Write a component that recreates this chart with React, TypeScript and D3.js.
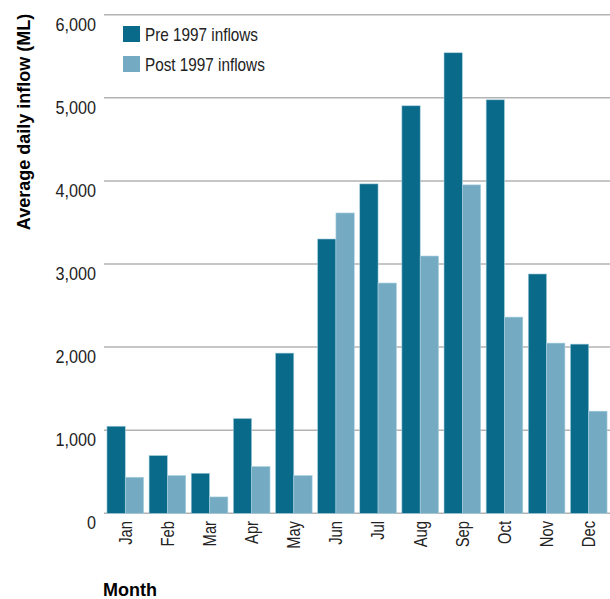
import React from 'react';
import * as d3 from 'd3';

const months = ['Jan', 'Feb', 'Mar', 'Apr', 'May', 'Jun', 'Jul', 'Aug', 'Sep', 'Oct', 'Nov', 'Dec'];
const pre1997 = [1048, 695, 482, 1141, 1928, 3301, 3964, 4904, 5542, 4976, 2880, 2036];
const post1997 = [434, 454, 197, 562, 454, 3614, 2771, 3096, 3952, 2361, 2048, 1229];
const yTicks = [0, 1000, 2000, 3000, 4000, 5000, 6000];
const seriesNames = ['Pre 1997 inflows', 'Post 1997 inflows'];
const colors = ['#0a6a8a', '#74abc3'];

const width = 610;
const height = 599;
const sans = "'Liberation Sans', Arial, sans-serif";

// no condensed face installed, so squeeze the regular one horizontally
const Narrow = ({ transform, squeeze, anchor, dy, children }: any) => (
  <g transform={`${transform} scale(${squeeze},1)`}>
    <text textAnchor={anchor} dy={dy} fontFamily={sans} fontSize={18} fill="#222">
      {children}
    </text>
  </g>
);

export default function App() {
  const x = d3.scaleBand<string>().domain(months).range([104, 610]).paddingInner(0.13).paddingOuter(0.07);
  const sub = d3.scaleBand<number>().domain([0, 1]).range([0, x.bandwidth()]);
  const y = d3.scaleLinear().domain([0, 6000]).range([513.3, 14.7]);
  const fmt = d3.format(',');
  const series = [pre1997, post1997];

  return (
    <svg width={width} height={height} style={{ position: 'absolute', left: 0, top: 0 }}>
      {/* grid */}
      {yTicks.map(t => (
        <g key={t}>
          <line x1={104} x2={610} y1={y(t)} y2={y(t)} stroke="#b3b3b3" strokeWidth={1.5} />
          <Narrow transform={`translate(96,${y(t) + 16})`} squeeze={0.9} anchor="end">
            {fmt(t)}
          </Narrow>
        </g>
      ))}

      {/* bars */}
      {months.map((m, i) => (
        <g key={m} transform={`translate(${x(m)},0)`}>
          {series.map((s, k) => (
            <rect
              key={k}
              x={sub(k)}
              y={y(s[i])}
              width={sub.bandwidth()}
              height={y(0) - y(s[i])}
              fill={colors[k]}
              stroke="#a9d0e0"
              strokeWidth={0.6}
            />
          ))}
          <Narrow
            transform={`translate(${x.bandwidth() / 2},521) rotate(-90)`}
            squeeze={0.82}
            anchor="end"
            dy="0.35em"
          >
            {m}
          </Narrow>
        </g>
      ))}

      {/* legend */}
      {seriesNames.map((n, k) => (
        <g key={n} transform={`translate(123,${26 + k * 30})`}>
          <rect width={17} height={16} fill={colors[k]} />
          <Narrow transform="translate(22,15)" squeeze={0.85} anchor="start">
            {n}
          </Narrow>
        </g>
      ))}

      {/* axis titles */}
      <text
        transform="translate(30,122) rotate(-90)"
        textAnchor="middle"
        fontFamily={sans}
        fontWeight="bold"
        fontSize={18}
        fill="#000"
      >
        Average daily inflow (ML)
      </text>
      <text x={103} y={596} fontFamily={sans} fontWeight="bold" fontSize={18} fill="#000">
        Month
      </text>
    </svg>
  );
}
